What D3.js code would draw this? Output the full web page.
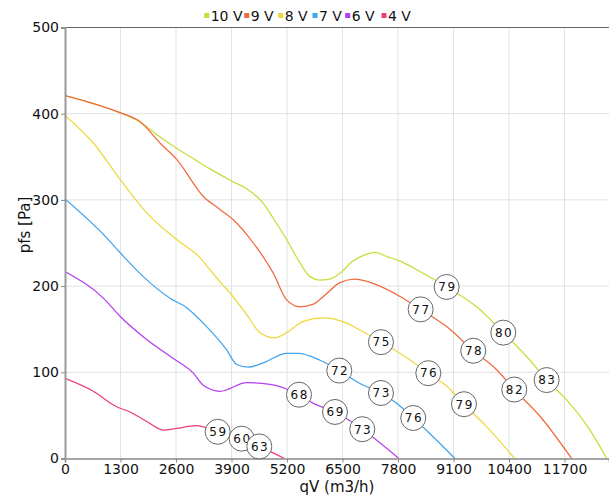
<!DOCTYPE html>
<html>
<head>
<meta charset="utf-8">
<script src="https://cdn.jsdelivr.net/npm/d3@7"></script>
<style>
  html, body { margin: 0; padding: 0; background: #fff; }
  svg { display: block; font-family: "DejaVu Sans", sans-serif; }
</style>
</head>
<body>
<svg id="chart" width="609" height="497"></svg>
<script>
// ---- data (qV in m3/h, pfs in Pa) ----
const seriesNames = ["10 V", "9 V", "8 V", "7 V", "6 V", "4 V"];
const seriesColors = ["#c3df3a", "#f06a3e", "#eed83c", "#3ea4ec", "#b43ef0", "#ef3a7c"];

const curve10V = [[0,421],[650,412],[1300,401],[1760,390],[2225,373],[2616,360],[3000,348],[3396,336],[3904,322],[4255,313],[4645,296],[4900,277],[5192,254],[5504,227],[5738,211],[5972,207],[6200,208],[6440,215],[6745,229],[7000,236],[7260,239],[7550,234],[7846,229],[8314,217],[8939,199],[9642,176],[10266,146],[10890,114],[11281,91],[11750,68],[12296,33],[12690,0]];
const curve9V = [[0,421],[650,412],[1300,401],[1756,391],[2225,366],[2616,347],[3239,304],[3630,289],[3942,277],[4411,250],[4879,215],[5192,184],[5504,176],[5816,179],[6100,190],[6440,204],[6792,208],[7377,200],[7846,188],[8330,173],[8939,153],[9563,125],[10110,103],[10523,80],[11125,49],[11866,0]];
const curve8V = [[0,398],[663,366],[1288,324],[1913,285],[2616,254],[3162,233],[3396,219],[3630,205],[3864,192],[4255,167],[4567,146],[4918,140],[5192,146],[5582,159],[6050,163],[6597,157],[6909,149],[7401,135],[7846,122],[8510,99],[8939,84],[9345,63],[9876,37],[10530,0]];
const curve7V = [[0,301],[976,256],[1288,239],[1834,211],[2459,186],[2850,175],[3318,153],[3787,126],[4021,109],[4294,106],[4645,111],[5192,122],[5465,122],[5972,114],[6425,102],[6909,87],[7401,76],[7768,64],[8157,47],[8627,25],[9134,0]];
const curve6V = [[0,217],[898,186],[1288,165],[1913,138],[2537,116],[3005,99],[3239,85],[3630,78],[4255,88],[4801,86],[5481,74],[5816,64],[6324,54],[6963,34],[7820,0]];
const curve4V = [[0,93],[663,78],[1210,60],[1522,54],[1913,43],[2303,33],[2616,35],[3084,38],[3576,31],[4138,23],[4551,14],[5140,0]];

// sound level labels on each curve: [qV, pfs, text]
const labels10V = [[8939,199,"79"],[10266,146,"80"],[11281,91,"83"]];
const labels9V = [[8330,173,"77"],[9563,125,"78"],[10523,80,"82"]];
const labels8V = [[7401,135,"75"],[8510,99,"76"],[9345,63,"79"]];
const labels7V = [[6425,102,"72"],[7401,76,"73"],[8157,47,"76"]];
const labels6V = [[5481,74,"68"],[6324,54,"69"],[6963,34,"73"]];
const labels4V = [[3576,31,"59"],[4138,23,"60"],[4551,14,"63"]];

const xTicks = [0,1300,2600,3900,5200,6500,7800,9100,10400,11700];
const yTicks = [0,100,200,300,400,500];
const xTitle = "qV (m3/h)";
const yTitle = "pfs [Pa]";

const curves = [curve10V, curve9V, curve8V, curve7V, curve6V, curve4V];
const labelSets = [labels10V, labels9V, labels8V, labels7V, labels6V, labels4V];

// ---- layout ----
const svg = d3.select("#chart");
const L = 65, R = 609, T = 27.5, B = 458.5;
const x = d3.scaleLinear().domain([0, 12742]).range([L, R]);
const y = d3.scaleLinear().domain([0, 500]).range([B, T]);

// grid
const grid = svg.append("g");
grid.selectAll("line.v").data(xTicks.slice(1)).join("line")
  .attr("x1", d => x(d)).attr("x2", d => x(d)).attr("y1", T).attr("y2", B)
  .attr("stroke", "#e2e2e2").attr("stroke-width", 1);
grid.selectAll("line.h").data(yTicks.slice(1, -1)).join("line")
  .attr("x1", L).attr("x2", R).attr("y1", d => y(d)).attr("y2", d => y(d))
  .attr("stroke", "#e2e2e2").attr("stroke-width", 1);
// top border
svg.append("line").attr("x1", L).attr("x2", R).attr("y1", y(500)).attr("y2", y(500))
  .attr("stroke", "#666").attr("stroke-width", 1.2);

// curves
svg.append("clipPath").attr("id", "clip").append("rect")
  .attr("x", L).attr("y", T - 2).attr("width", R - L).attr("height", B - T + 2);
const line = d3.line().x(d => x(d[0])).y(d => y(d[1])).curve(d3.curveMonotoneX);
svg.append("g").attr("clip-path", "url(#clip)")
  .selectAll("path").data(curves).join("path")
  .attr("d", line).attr("fill", "none")
  .attr("stroke", (d, i) => seriesColors[i]).attr("stroke-width", 1.25);

// axes
const xAxis = svg.append("g").attr("transform", `translate(0,${B})`)
  .call(d3.axisBottom(x).tickValues(xTicks).tickSize(4).tickPadding(2).tickFormat(d3.format("d")));
xAxis.select(".domain").attr("stroke", "#888").attr("stroke-width", 1.5);
xAxis.selectAll(".tick line").attr("stroke", "#888");
xAxis.selectAll("text").attr("font-size", 14).attr("fill", "#111").attr("font-family", "DejaVu Sans");

const yAxis = svg.append("g").attr("transform", `translate(${L},0)`)
  .call(d3.axisLeft(y).tickValues(yTicks).tickSize(4).tickPadding(2).tickFormat(d3.format("d")));
yAxis.select(".domain").attr("stroke", "#999").attr("stroke-width", 2);
yAxis.selectAll(".tick line").attr("stroke", "#888");
yAxis.selectAll("text").attr("font-size", 14).attr("fill", "#111").attr("font-family", "DejaVu Sans");

// titles
svg.append("text").attr("x", (L + R) / 2).attr("y", 492).attr("text-anchor", "middle")
  .attr("font-size", 15).attr("fill", "#111").text(xTitle);
svg.append("text").attr("transform", `translate(30,${225}) rotate(-90)`).attr("text-anchor", "middle")
  .attr("font-size", 15).attr("fill", "#111").text(yTitle);

// labels
const lab = svg.append("g");
labelSets.forEach(set => {
  set.forEach(d => {
    const g = lab.append("g").attr("transform", `translate(${x(d[0])},${y(d[1])})`);
    g.append("circle").attr("r", 12.5).attr("fill", "#fff").attr("stroke", "#666").attr("stroke-width", 1);
    g.append("text").attr("text-anchor", "middle").attr("dy", "0.36em")
      .attr("font-size", 12).attr("letter-spacing", 1.5).attr("dx", 0.75)
      .attr("fill", "#111").text(d[2]);
  });
});

// legend
const legendX = [206.7, 246.7, 280.7, 315, 347.7, 384];
const leg = svg.append("g");
seriesNames.forEach((n, i) => {
  leg.append("rect").attr("x", legendX[i] - 2.5).attr("y", 13).attr("width", 5).attr("height", 5)
    .attr("fill", seriesColors[i]);
  leg.append("text").attr("x", legendX[i] + 4).attr("y", 20.5).attr("font-size", 14)
    .attr("fill", "#111").text(n);
});
</script>
</body>
</html>
